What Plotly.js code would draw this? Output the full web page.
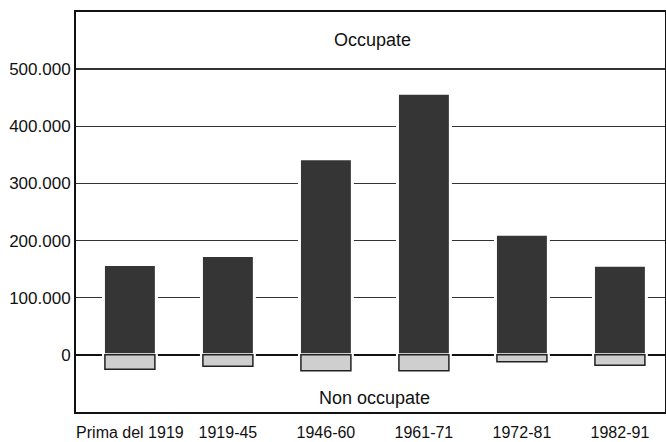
<!DOCTYPE html>
<html>
<head>
<meta charset="utf-8">
<script src="https://cdn.plot.ly/plotly-3.0.1.min.js"></script>
<style>html,body{margin:0;padding:0;background:#fff;}#chart{width:666px;height:442px;}</style>
</head>
<body>
<div id="chart"></div>
<script>
var categories = ["Prima del 1919", "1919-45", "1946-60", "1961-71", "1972-81", "1982-91"];
var occupate = [158000, 174000, 343000, 458000, 211000, 157000];
var nonOccupate = [-25000, -20000, -28000, -28000, -12000, -18000];
var yTickVals = [0, 100000, 200000, 300000, 400000, 500000];
var labelOccupate = "Occupate";
var labelNonOccupate = "Non occupate";

var traces = [
  {
    type: "bar", x: categories, y: occupate, width: 0.54,
    marker: {color: "#353535", line: {color: "#ffffff", width: 3}},
    hoverinfo: "skip", showlegend: false
  },
  {
    type: "bar", x: categories, y: nonOccupate, width: 0.51,
    marker: {color: "#cfcfcf", line: {color: "#222222", width: 1.5}},
    hoverinfo: "skip", showlegend: false
  }
];

var layout = {
  width: 666, height: 442,
  margin: {l: 76, r: 1, t: 12, b: 30, pad: 0},
  paper_bgcolor: "#ffffff", plot_bgcolor: "#ffffff",
  barmode: "relative",
  separators: ",.",
  font: {family: "Liberation Sans, Arial, sans-serif", size: 16, color: "#111111"},
  xaxis: {
    type: "category", range: [-0.55, 5.46],
    showgrid: false, zeroline: false,
    showline: true, mirror: true, linecolor: "#111111", linewidth: 2,
    ticks: "outside", ticklen: 5, tickcolor: "rgba(0,0,0,0)",
    tickfont: {size: 16, color: "#111111"}
  },
  yaxis: {
    range: [-100000, 600000],
    tickvals: yTickVals, tickformat: ",d",
    showgrid: true, gridcolor: "#333333", gridwidth: 1.5,
    zeroline: true, zerolinecolor: "#111111", zerolinewidth: 2,
    showline: true, mirror: true, linecolor: "#111111", linewidth: 2,
    ticks: "", tickfont: {size: 17, color: "#111111"}
  },
  annotations: [
    {text: labelOccupate, xref: "paper", yref: "paper", x: 0.504, y: 0.93,
     showarrow: false, font: {size: 18, color: "#111111"}, xanchor: "center", yanchor: "middle"},
    {text: labelNonOccupate, xref: "paper", yref: "paper", x: 0.507, y: 0.035,
     showarrow: false, font: {size: 18, color: "#111111"}, xanchor: "center", yanchor: "middle"}
  ]
};

Plotly.newPlot("chart", traces, layout, {staticPlot: true, displayModeBar: false});
</script>
</body>
</html>
